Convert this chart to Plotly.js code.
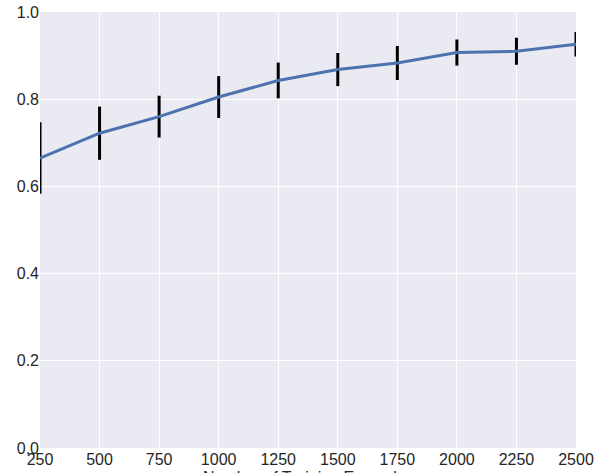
<!DOCTYPE html>
<html>
<head>
<meta charset="utf-8">
<script src="https://cdn.plot.ly/plotly-3.0.1.min.js"></script>
<style>html,body{margin:0;padding:0;background:#fff;overflow:hidden;}#chart{width:604px;height:473px;}</style>
</head>
<body>
<div id="chart"></div>
<script>
var trainSizes = [250, 500, 750, 1000, 1250, 1500, 1750, 2000, 2250, 2500];
var meanScores = [0.665, 0.722, 0.760, 0.805, 0.843, 0.868, 0.883, 0.907, 0.910, 0.926];
var scoreErrors = [0.082, 0.061, 0.048, 0.048, 0.041, 0.038, 0.039, 0.030, 0.031, 0.028];
var xTicks = [250, 500, 750, 1000, 1250, 1500, 1750, 2000, 2250, 2500];
var yTicks = [0.0, 0.2, 0.4, 0.6, 0.8, 1.0];
var yTickText = ["0.0", "0.2", "0.4", "0.6", "0.8", "1.0"];
var xTitle = "Number of Training Examples";

var trace = {
  x: trainSizes,
  y: meanScores,
  type: "scatter",
  mode: "lines",
  line: {color: "#4C72B0", width: 3},
  error_y: {type: "data", array: scoreErrors, visible: true, color: "#000000", thickness: 3, width: 0}
};

var layout = {
  width: 604,
  height: 473,
  margin: {l: 40, r: 28, t: 12, b: 25, pad: 0},
  paper_bgcolor: "#ffffff",
  plot_bgcolor: "#EAEAF2",
  showlegend: false,
  font: {family: "Liberation Sans, Arial, sans-serif", size: 16, color: "#262626"},
  xaxis: {
    range: [250, 2500],
    tickvals: xTicks,
    ticktext: xTicks.map(String),
    showgrid: true,
    gridcolor: "#ffffff",
    gridwidth: 1,
    zeroline: false,
    showline: false,
    ticks: "",
    ticklen: 0,
    automargin: false
  },
  yaxis: {
    range: [0, 1],
    tickvals: yTicks,
    ticktext: yTickText,
    showgrid: true,
    gridcolor: "#ffffff",
    gridwidth: 1,
    zeroline: false,
    showline: false,
    ticks: "",
    ticklen: 0,
    automargin: false
  },
  annotations: [{
    text: xTitle,
    xref: "paper", yref: "paper",
    x: 0.5, y: 0,
    xanchor: "center", yanchor: "top",
    yshift: -19,
    showarrow: false,
    font: {size: 16, color: "#262626"}
  }]
};

Plotly.newPlot("chart", [trace], layout, {displayModeBar: false, staticPlot: true});
</script>
</body>
</html>
